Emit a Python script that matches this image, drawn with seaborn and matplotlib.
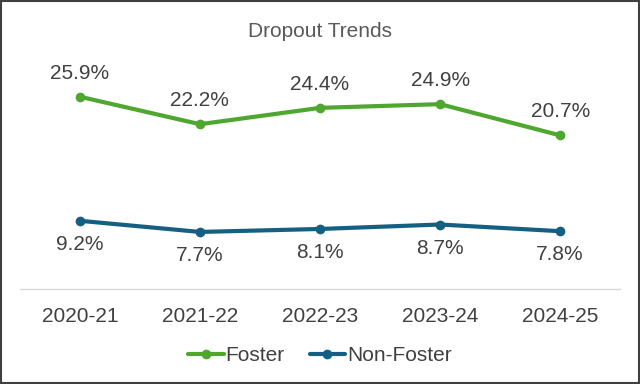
import matplotlib
matplotlib.use("Agg")
import matplotlib.pyplot as plt
import pandas as pd
import seaborn as sns
from matplotlib.patches import Rectangle

years = ["2020-21", "2021-22", "2022-23", "2023-24", "2024-25"]
foster = [25.9, 22.2, 24.4, 24.9, 20.7]
non_foster = [9.2, 7.7, 8.1, 8.7, 7.8]

df = pd.DataFrame({
    "year": years * 2,
    "rate": foster + non_foster,
    "group": ["Foster"] * len(years) + ["Non-Foster"] * len(years),
})

sns.set_style("white")
plt.rcParams["font.family"] = ["Liberation Sans", "DejaVu Sans"]

palette = {"Foster": "#4EA72E", "Non-Foster": "#156082"}
text_color = "#404040"

fig = plt.figure(figsize=(6.4, 3.84), dpi=100)
ax = fig.add_axes([0.031, 0.247, 0.938, 0.594])

sns.lineplot(data=df, x="year", y="rate", hue="group", palette=palette,
             marker="o", markersize=7, markeredgewidth=0, linewidth=3,
             sort=False, ax=ax)

ax.set_ylim(0, 30.7)
ax.set_xlim(-0.5, len(years) - 0.5)
ax.set_yticks([])
ax.set_xlabel("")
ax.set_ylabel("")
for s in ["top", "left", "right"]:
    ax.spines[s].set_visible(False)
ax.spines["bottom"].set_color("#D9D9D9")
ax.spines["bottom"].set_linewidth(1)
ax.tick_params(axis="x", length=0, pad=13, labelsize=15, labelcolor=text_color)

# data labels: Foster above, Non-Foster below
for i, v in enumerate(foster):
    ax.annotate(f"{v}%", (i, v), xytext=(0, 17), textcoords="offset points",
                ha="center", va="center", fontsize=15, color=text_color)
for i, v in enumerate(non_foster):
    ax.annotate(f"{v}%", (i, v), xytext=(0, -17), textcoords="offset points",
                ha="center", va="center", fontsize=15, color=text_color)

fig.text(0.5, 0.918, "Dropout Trends", ha="center", va="center",
         fontsize=15, color="#595959",
         family=["Liberation Sans Narrow", "Liberation Sans", "DejaVu Sans"])

handles, labels = ax.get_legend_handles_labels()
ax.legend(handles, labels, loc="center", bbox_to_anchor=(0.5, -0.29),
          ncol=2, frameon=False, fontsize=15, handlelength=1.7,
          handletextpad=0.1, columnspacing=1.2, labelcolor=text_color)

# outer border
fig.patches.append(Rectangle((0.002, 0.003), 0.996, 0.994, transform=fig.transFigure,
                             fill=False, edgecolor="#404040", linewidth=1.5))

fig.savefig("out.png", dpi=100)
